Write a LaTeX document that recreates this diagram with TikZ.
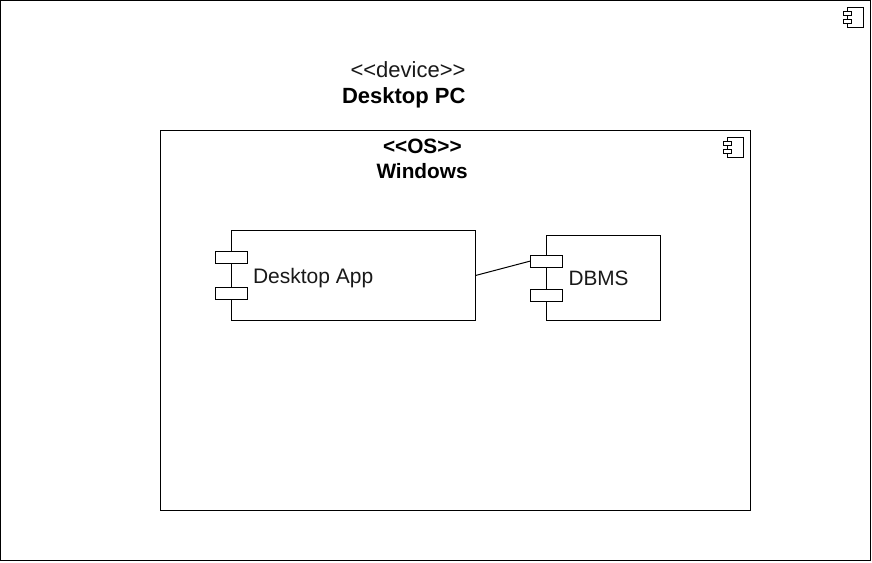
\documentclass[tikz,border=0pt]{standalone}
\usepackage{fontspec}
\setmainfont{Liberation Sans}
\begin{document}
\begin{tikzpicture}[x=0.75pt,y=-0.75pt,line width=0.75pt,
  box/.style={draw=black,fill=white,rectangle,inner sep=0pt,outer sep=0pt},
  bx/.style n args={2}{box,minimum width=#1*0.75pt,minimum height=#2*0.75pt},
  lbl/.style={anchor=base west,inner sep=0pt,outer sep=0pt,font=\fontsize{15.75pt}{18pt}\selectfont,text=black!90},
  blbl/.style={lbl,font=\fontsize{15.6pt}{18pt}\selectfont\bfseries,text=black},
  biglbl/.style={lbl,font=\fontsize{16.5pt}{18pt}\selectfont},
  bigblbl/.style={lbl,font=\fontsize{16.5pt}{18pt}\selectfont\bfseries,text=black}]
\useasboundingbox (0,0) rectangle (872,562);
\node[bx={870}{560}] (device) at (435.5,280.5) {};
\node[bx={16}{20}] (devicon) at (855.5,17.5) {};
\node[bx={8}{4}] (devicona) at (847.5,13.5) {};
\node[bx={8}{4}] (deviconb) at (847.5,21.5) {};
\node[biglbl] (devst) at (350.5,77) {<{}<device>{}>};
\node[bigblbl] (devname) at (342,103) {Desktop PC};
\node[bx={590}{380}] (os) at (455.5,320.5) {};
\node[bx={16}{20}] (osicon) at (735.5,147.5) {};
\node[bx={8}{4}] (osicona) at (727.5,143.5) {};
\node[bx={8}{4}] (osiconb) at (727.5,151.5) {};
\node[blbl] (osst) at (383,153) {<{}<OS>{}>};
\node[blbl] (osname) at (376.5,178.5) {Windows};
\node[bx={244}{90}] (app) at (353.5,275.5) {};
\node[bx={32}{12}] (appa) at (231.5,257.5) {};
\node[bx={32}{12}] (appb) at (231.5,293.5) {};
\node[lbl] (applbl) at (253,283) {Desktop App};
\node[bx={114}{85}] (dbms) at (603.5,278) {};
\node[bx={32}{12}] (dbmsa) at (546.5,261) {};
\node[bx={32}{12}] (dbmsb) at (546.5,295) {};
\node[lbl,font=\fontsize{15.6pt}{18pt}\selectfont] (dbmslbl) at (568.5,285) {DBMS};
\draw (app.east) -- (dbmsa.west);
\end{tikzpicture}
\end{document}
